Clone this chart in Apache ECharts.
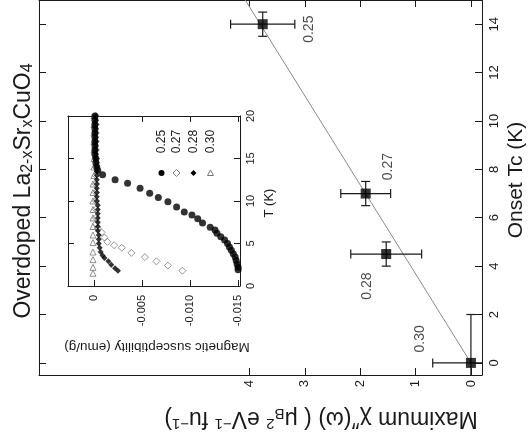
<!DOCTYPE html>
<html>
<head>
<meta charset="utf-8">
<script src="https://cdn.jsdelivr.net/npm/echarts@6/dist/echarts.min.js"></script>
<style>
html, body { margin: 0; padding: 0; background: #fff; }
#main { width: 529px; height: 441px; }
</style>
</head>
<body>
<div id="main"></div>
<script>
// main panel: onset Tc against maximum chi''
var dopings = ['0.25', '0.27', '0.28', '0.30'];
var chiMax = [3.76, 1.90, 1.53, 0.0];
var chiErr = [0.58, 0.45, 0.64, 0.69];
var onsetTc = [14.0, 7.0, 4.5, 0.0];
var tcErr = [0.5, 0.5, 0.5, 2.0];
var fitChi = [0, 4.1];
var fitTc = [0, 15.09];
var chiTicks = [0, 1, 2, 3, 4];
var tcTicks = [0, 2, 4, 6, 8, 10, 12, 14];

// inset: magnetic susceptibility against T
var t025 = [20, 19.5, 19, 18.5, 18, 17.5, 17, 16.5, 16, 15.5, 15, 14.5, 14, 13.6, 13.1, 12.5, 12.1, 11.5, 10.9, 10.4,
    9.9, 9.3, 8.7, 8.35, 7.9, 7.4, 6.9, 6.6, 6.2, 5.8, 5.4, 5.0, 4.6, 4.2, 3.8, 3.4, 3.0, 2.6, 2.2, 1.9];
var m025 = [-0.0001, -0.0001, -0.0001, -0.0001, -0.0001, -0.0001, -0.0001, -0.0001, -0.0001, -0.0001,
    -0.0002, -0.0002, -0.0003, -0.0004, -0.0009, -0.0022, -0.0035, -0.0048, -0.0058, -0.0067,
    -0.0077, -0.0086, -0.0094, -0.0102, -0.0108, -0.0113, -0.0121, -0.0126, -0.0128, -0.0132,
    -0.0136, -0.0139, -0.0141, -0.0143, -0.0145, -0.0147, -0.0148, -0.0149, -0.0150, -0.0150];
var t027 = [20, 19, 18, 17, 16, 15, 14, 13, 12, 11, 10, 9, 8, 7.3, 6.8, 6.3, 5.7, 5.2, 4.8, 4.5, 3.9, 3.4, 2.9, 2.4, 1.8];
var m027 = [-0.0002, -0.0002, -0.0002, -0.0002, -0.0002, -0.0002, -0.0002, -0.0002, -0.0002, -0.0002,
    -0.0002, -0.0002, -0.0002, -0.0002, -0.0004, -0.0008, -0.0011, -0.0014, -0.0021, -0.0029,
    -0.0039, -0.0053, -0.0065, -0.0077, -0.0092];
var t028 = [20, 19.5, 19, 18.5, 18, 17.5, 17, 16.5, 16, 15.5, 15, 14.5, 14, 13.5, 13, 12.5, 12, 11.5, 11, 10.5,
    10, 9.5, 9, 8.5, 8, 7.5, 7, 6.5, 6, 5.5, 5, 4.5, 4.0, 3.6, 3.3, 2.9, 2.5, 2.1, 1.8];
var m028 = [-0.0002, -0.0002, -0.0002, -0.0002, -0.0002, -0.0002, -0.0002, -0.0002, -0.0002, -0.0002, -0.0002,
    -0.0003, -0.0003, -0.0003, -0.0003, -0.0003, -0.0003, -0.0003, -0.0003, -0.0003, -0.0003,
    -0.0004, -0.0004, -0.0004, -0.0004, -0.0004, -0.0004, -0.0004,
    -0.0005, -0.0005, -0.0005,
    -0.0006, -0.0007, -0.0009, -0.0011, -0.0015, -0.0018, -0.0022, -0.0025];
var t030 = [20, 19, 18, 17, 16, 15, 14, 13, 12, 11, 10, 9, 8, 7, 6.0, 5.1, 4.0, 3.1, 2.2, 1.5];
var m030 = [0, 0, 0, 0, 0, 0, 0, 0, 0.0001, 0.0001, 0.0001, 0.0001, 0.0001, 0.0001, 0.0001, 0.0001, 0.0001, 0.0001, 0.0001, 0.0001];
var insetTTicks = [0, 5, 10, 15, 20];
var insetMTicks = [0, -0.005, -0.010, -0.015];

// where each doping label sits relative to its square, in screen pixels [right, down]
var labelOffset = [[46, 5], [22, -27], [-19, 32], [-51, -24]];

var FONT = '"Liberation Sans", Arial, sans-serif';
var INK = '#1a1a1a';

function pairs(xs, ys) {
    var out = [];
    for (var i = 0; i < xs.length; i++) out.push([xs[i], ys[i]]);
    return out;
}

function frameAxis(extra) {
    var base = {
        type: 'value',
        axisLine: { show: true, onZero: false, lineStyle: { color: INK, width: 1 } },
        axisTick: { show: true, inside: true, length: 7, lineStyle: { color: INK, width: 1 } },
        axisLabel: { show: false },
        splitLine: { show: false }
    };
    return echarts.util.merge(base, extra, true);
}

// label is turned 90deg, so its offset is given in the turned frame
var squares = dopings.map(function (d, i) {
    return {
        value: [chiMax[i], onsetTc[i]],
        label: { offset: [-labelOffset[i][1], labelOffset[i][0]] }
    };
});
var bars = dopings.map(function (d, i) {
    return [chiMax[i], onsetTc[i], chiErr[i], tcErr[i]];
});

function renderErrorBars(params, api) {
    var cs = params.coordSys;
    var chi = api.value(0), tc = api.value(1), ex = api.value(2), ey = api.value(3);
    var c = api.coord([chi, tc]);
    var xl = api.coord([chi + ex, tc])[0];
    var xr = api.coord([chi - ex, tc])[0];
    var yt = api.coord([chi, tc + ey])[1];
    var yb = api.coord([chi, tc - ey])[1];
    var x0 = cs.x, x1 = cs.x + cs.width, y0 = cs.y, y1 = cs.y + cs.height;
    var cap = 4.5;
    var st = { stroke: INK, lineWidth: 1.2 };
    var kids = [];
    function seg(a, b, p, q) {
        kids.push({ type: 'line', shape: { x1: a, y1: b, x2: p, y2: q }, style: st });
    }
    var cl = Math.max(x0, xl), cr = Math.min(x1, xr);
    var ct = Math.max(y0, yt), cb = Math.min(y1, yb);
    seg(cl, c[1], cr, c[1]);
    seg(c[0], ct, c[0], cb);
    if (cl === xl) seg(xl, c[1] - cap, xl, c[1] + cap);
    if (cr === xr) seg(xr, c[1] - cap, xr, c[1] + cap);
    if (ct === yt) seg(c[0] - cap, yt, c[0] + cap, yt);
    if (cb === yb) seg(c[0] - cap, yb, c[0] + cap, yb);
    return { type: 'group', children: kids };
}

var myChart = echarts.init(document.getElementById('main'), null, { renderer: 'canvas' });

var option = {
    animation: false,
    backgroundColor: '#fff',
    textStyle: { fontFamily: FONT },
    grid: [
        { left: 39, right: 47, top: 0, bottom: 66 },
        { left: 68, top: 116, width: 172, height: 170 }
    ],
    xAxis: [
        frameAxis({
            gridIndex: 0, position: 'bottom', inverse: true, min: -0.2, max: 7.8,
            axisTick: { customValues: chiTicks },
            axisLabel: { show: true, customValues: chiTicks, rotate: 90, margin: 5, color: INK, fontSize: 13, fontFamily: FONT }
        }),
        frameAxis({
            gridIndex: 0, position: 'top', inverse: true, min: -0.2, max: 7.8,
            axisTick: { customValues: chiTicks }
        }),
        frameAxis({
            gridIndex: 1, position: 'bottom', inverse: true, min: -0.0152, max: 0.0027,
            axisTick: { customValues: insetMTicks, length: 6 },
            axisLabel: {
                show: true, customValues: insetMTicks, rotate: 90, margin: 9, color: INK, fontSize: 11, fontFamily: FONT,
                formatter: function (v) { return v === 0 ? '0' : v.toFixed(3); }
            }
        }),
        frameAxis({
            gridIndex: 1, position: 'top', inverse: true, min: -0.0152, max: 0.0027,
            axisTick: { customValues: insetMTicks, length: 6 }
        })
    ],
    yAxis: [
        frameAxis({
            gridIndex: 0, position: 'right', min: -0.5, max: 15,
            axisTick: { customValues: tcTicks },
            axisLabel: { show: true, customValues: tcTicks, rotate: 90, margin: 6, color: INK, fontSize: 13, fontFamily: FONT }
        }),
        frameAxis({
            gridIndex: 0, position: 'left', min: -0.5, max: 15,
            axisTick: { customValues: tcTicks }
        }),
        frameAxis({
            gridIndex: 1, position: 'right', min: 0, max: 20,
            axisTick: { customValues: insetTTicks, length: 6 },
            axisLabel: { show: true, customValues: insetTTicks, rotate: 90, margin: 5, color: INK, fontSize: 11, fontFamily: FONT }
        }),
        frameAxis({
            gridIndex: 1, position: 'left', min: 0, max: 20,
            axisTick: { customValues: insetTTicks, length: 6 }
        })
    ],
    series: [
        {
            type: 'line', xAxisIndex: 0, yAxisIndex: 0,
            data: pairs(fitChi, fitTc), symbol: 'none', clip: true,
            lineStyle: { color: '#8a8a8a', width: 1 }, z: 2
        },
        {
            type: 'custom', xAxisIndex: 0, yAxisIndex: 0,
            data: bars, renderItem: renderErrorBars, z: 3
        },
        {
            type: 'scatter', xAxisIndex: 0, yAxisIndex: 0,
            data: squares, symbol: 'rect', symbolSize: 10,
            itemStyle: { color: '#000' }, z: 4,
            label: {
                show: true, position: 'inside', rotate: 90,
                color: INK, fontSize: 14, fontFamily: FONT,
                formatter: function (p) { return dopings[p.dataIndex]; }
            }
        },
        {
            type: 'scatter', xAxisIndex: 2, yAxisIndex: 2,
            data: pairs(m030, t030), symbol: 'triangle', symbolSize: 6,
            itemStyle: { color: 'rgba(0,0,0,0)', borderColor: '#777', borderWidth: 1 }
        },
        {
            type: 'scatter', xAxisIndex: 2, yAxisIndex: 2,
            data: pairs(m027, t027), symbol: 'diamond', symbolSize: 7,
            itemStyle: { color: 'rgba(0,0,0,0)', borderColor: '#7a7a7a', borderWidth: 1 }
        },
        {
            type: 'scatter', xAxisIndex: 2, yAxisIndex: 2,
            data: pairs(m028, t028), symbol: 'diamond', symbolSize: 6,
            itemStyle: { color: '#000' }
        },
        {
            type: 'scatter', xAxisIndex: 2, yAxisIndex: 2,
            data: pairs(m025, t025), symbol: 'circle', symbolSize: 7,
            itemStyle: { color: '#000' }
        }
    ],
    graphic: [
        {
            type: 'text', x: 24, y: 191, rotation: Math.PI / 2,
            style: {
                text: '{a|Overdoped La}{s|2-x}{a|Sr}{s|x}{a|CuO}{s|4}',
                align: 'center', verticalAlign: 'middle', fill: INK,
                rich: {
                    a: { fontSize: 23, fontFamily: FONT, fill: INK },
                    s: { fontSize: 16, fontFamily: FONT, fill: INK, padding: [8, 0, 0, 0] }
                }
            }
        },
        {
            type: 'text', x: 516, y: 180, rotation: Math.PI / 2,
            style: { text: 'Onset Tc (K)', align: 'center', verticalAlign: 'middle', fill: INK, font: '21px ' + FONT }
        },
        {
            type: 'text', x: 321, y: 418, rotation: Math.PI,
            style: {
                text: '{a|Maximum \u03c7\u2033(\u03c9) ( \u03bc}{sub|B}{sup|2}{a| eV}{sup|\u22121}{a| fu}{sup|\u22121}{a|)}',
                align: 'center', verticalAlign: 'middle', fill: INK,
                rich: {
                    a: { fontSize: 23, fontFamily: FONT, fill: INK },
                    sub: { fontSize: 15, fontFamily: FONT, fill: INK, padding: [9, 0, 0, 0] },
                    sup: { fontSize: 15, fontFamily: FONT, fill: INK, padding: [0, 0, 11, 0] }
                }
            }
        },
        {
            type: 'text', x: 157, y: 347, rotation: Math.PI,
            style: { text: 'Magnetic susceptibility (emu/g)', align: 'center', verticalAlign: 'middle', fill: INK, font: '13.5px ' + FONT }
        },
        {
            type: 'text', x: 269, y: 203, rotation: Math.PI / 2,
            style: { text: 'T (K)', align: 'center', verticalAlign: 'middle', fill: INK, font: '13px ' + FONT }
        },
        // inset legend, turned like the rest of the figure
        { type: 'text', x: 161.5, y: 141.5, rotation: Math.PI / 2, style: { text: dopings[0], align: 'center', verticalAlign: 'middle', fill: INK, font: '12px ' + FONT } },
        { type: 'text', x: 176.5, y: 141.5, rotation: Math.PI / 2, style: { text: dopings[1], align: 'center', verticalAlign: 'middle', fill: INK, font: '12px ' + FONT } },
        { type: 'text', x: 193.5, y: 141.5, rotation: Math.PI / 2, style: { text: dopings[2], align: 'center', verticalAlign: 'middle', fill: INK, font: '12px ' + FONT } },
        { type: 'text', x: 210.5, y: 141.5, rotation: Math.PI / 2, style: { text: dopings[3], align: 'center', verticalAlign: 'middle', fill: INK, font: '12px ' + FONT } },
        { type: 'circle', shape: { cx: 161.5, cy: 173, r: 3 }, style: { fill: '#000' } },
        { type: 'polygon', shape: { points: [[176.5, 169.5], [180, 173], [176.5, 176.5], [173, 173]] }, style: { fill: 'none', stroke: '#7a7a7a', lineWidth: 1 } },
        { type: 'polygon', shape: { points: [[193.5, 170], [196.5, 173], [193.5, 176], [190.5, 173]] }, style: { fill: '#000' } },
        { type: 'polygon', shape: { points: [[210.5, 170], [213.5, 175.5], [207.5, 175.5]] }, style: { fill: 'none', stroke: '#777', lineWidth: 1 } }
    ]
};

myChart.setOption(option);
</script>
</body>
</html>
